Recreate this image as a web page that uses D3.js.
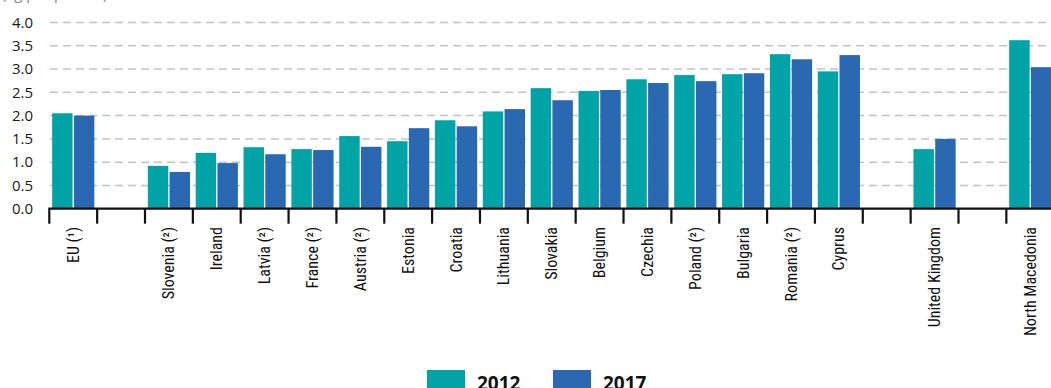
<!DOCTYPE html>
<html>
<head>
<meta charset="utf-8">
<script src="https://cdn.jsdelivr.net/npm/d3@7"></script>
<style>
  body { margin: 0; background: #fff; }
  svg { display: block; }
</style>
</head>
<body>
<svg id="chart" width="1051" height="388"></svg>
<script>
// Colours of the two series
const palette = {
  y2012: "#00a4a7",
  y2017: "#2a68b1",
  grid: "#c4c4c4"
};

// Categories (empty slots are spacers between groups)
const categories = [
  "EU (¹)", "_gap1", "Slovenia (²)", "Ireland", "Latvia (²)", "France (²)", "Austria (²)",
  "Estonia", "Croatia", "Lithuania", "Slovakia", "Belgium", "Czechia", "Poland (²)",
  "Bulgaria", "Romania (²)", "Cyprus", "_gap2", "United Kingdom", "_gap3", "North Macedonia"
];

const values2012 = [
  2.05, null, 0.92, 1.20, 1.32, 1.28, 1.56,
  1.45, 1.90, 2.09, 2.59, 2.53, 2.78, 2.87,
  2.89, 3.32, 2.95, null, 1.28, null, 3.62
];

const values2017 = [
  2.00, null, 0.79, 0.98, 1.17, 1.26, 1.33,
  1.73, 1.77, 2.14, 2.33, 2.55, 2.70, 2.74,
  2.91, 3.21, 3.30, null, 1.50, null, 3.04
];

const yTicks = [0, 0.5, 1, 1.5, 2, 2.5, 3, 3.5, 4];
const seriesNames = ["2012", "2017"];

const svg = d3.select("#chart");

// Scales
const x = d3.scaleBand()
  .domain(categories)
  .range([49.3, 1054.2])
  .paddingInner(0)
  .paddingOuter(0);

const xSub = d3.scaleBand()
  .domain(seriesNames)
  .range([0, x.bandwidth()])
  .paddingInner(0.06)
  .paddingOuter(0.13);

const y = d3.scaleLinear()
  .domain([0, 4])
  .range([208.7, 22.5]);

// Unit label (cut off at the top in the original)
svg.append("text")
  .attr("x", 2)
  .attr("y", -1)
  .attr("fill", "#888")
  .style("font-family", "'Open Sans', sans-serif")
  .style("font-size", "15px")
  .text("(kg per person)");

// Gridlines
svg.append("g")
  .selectAll("line")
  .data(yTicks.filter(d => d > 0))
  .join("line")
    .attr("x1", 50)
    .attr("x2", 1051)
    .attr("y1", d => y(d))
    .attr("y2", d => y(d))
    .attr("stroke", palette.grid)
    .attr("stroke-width", 1.5)
    .attr("stroke-dasharray", "8,5");

// Y axis labels
const yAxis = svg.append("g")
  .attr("transform", "translate(49,0)")
  .call(d3.axisLeft(y).tickValues(yTicks).tickFormat(d3.format(".1f")).tickSize(0).tickPadding(16));

yAxis.select(".domain").remove();
yAxis.selectAll("text")
  .attr("fill", "#1a1a1a")
  .style("font-family", "'Open Sans', sans-serif")
  .style("font-size", "15px");

// Bars
const rows = categories.map((c, i) => ({ cat: c, v2012: values2012[i], v2017: values2017[i] }));

const groups = svg.append("g")
  .selectAll("g")
  .data(rows.filter(d => d.v2012 !== null))
  .join("g")
    .attr("transform", d => `translate(${x(d.cat)},0)`);

groups.append("rect")
  .attr("x", xSub("2012"))
  .attr("width", xSub.bandwidth())
  .attr("y", d => y(d.v2012))
  .attr("height", d => y(0) - y(d.v2012))
  .attr("fill", palette.y2012);

groups.append("rect")
  .attr("x", xSub("2017"))
  .attr("width", xSub.bandwidth())
  .attr("y", d => y(d.v2017))
  .attr("height", d => y(0) - y(d.v2017))
  .attr("fill", palette.y2017);

// X axis with ticks between categories
const tickPos = categories.map(c => x(c));
svg.append("line")
  .attr("x1", 48.3)
  .attr("x2", 1051)
  .attr("y1", y(0))
  .attr("y2", y(0))
  .attr("stroke", "#111")
  .attr("stroke-width", 2.2);

svg.append("g")
  .selectAll("line")
  .data(tickPos)
  .join("line")
    .attr("x1", d => d)
    .attr("x2", d => d)
    .attr("y1", y(0))
    .attr("y2", y(0) + 15)
    .attr("stroke", "#111")
    .attr("stroke-width", 2.2);

// Category labels, rotated
svg.append("g")
  .selectAll("text")
  .data(categories.filter(c => !c.startsWith("_")))
  .join("text")
    .attr("transform", d => `translate(${x(d) + x.bandwidth() / 2 + 5.5},227) rotate(-90)`)
    .attr("text-anchor", "end")
    .attr("fill", "#111")
    .style("font-family", "'Liberation Sans Narrow', 'Roboto Condensed', sans-serif")
    .style("font-size", "16px")
    .text(d => d);

// Legend
const legend = svg.append("g");
const legendItems = [
  { name: "2012", color: palette.y2012, x: 427 },
  { name: "2017", color: palette.y2017, x: 553 }
];
legendItems.forEach(item => {
  legend.append("rect")
    .attr("x", item.x)
    .attr("y", 370)
    .attr("width", 38)
    .attr("height", 20)
    .attr("fill", item.color);
  legend.append("text")
    .attr("x", item.x + 50)
    .attr("y", 390)
    .attr("fill", "#111")
    .style("font-family", "'Open Sans', sans-serif")
    .style("font-weight", "bold")
    .style("font-size", "19px")
    .text(item.name);
});
</script>
</body>
</html>
